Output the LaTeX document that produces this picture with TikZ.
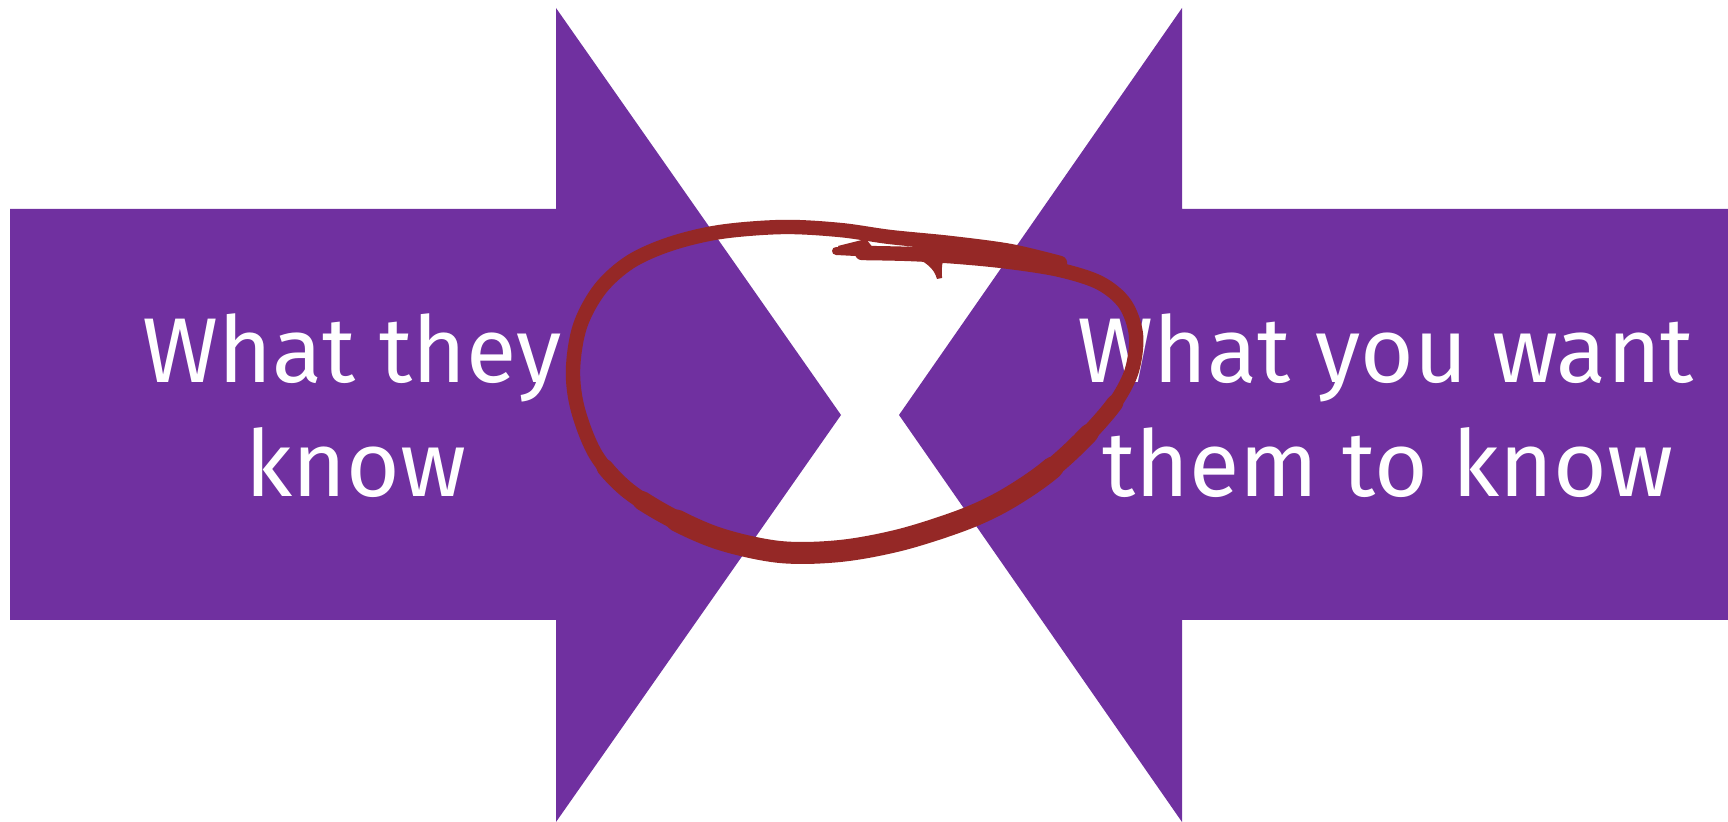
\documentclass[tikz,border=0pt]{standalone}
\usepackage{fontspec}
\setmainfont{Fira Sans}
\definecolor{arrowpurple}{HTML}{7030A0}
\definecolor{loopred}{HTML}{952826}
\begin{document}
\begin{tikzpicture}[x=0.5pt,y=-0.5pt,
  arrowshape/.style={fill=arrowpurple,draw=none},
  label/.style={text=white,font=\fontsize{46}{57}\selectfont,anchor=base,inner sep=0pt},
  loopstroke/.style={draw=loopred,line cap=round,line join=round}]
\useasboundingbox (0,0) rectangle (1728,822);
\fill[white] (0,0) rectangle (1728,822);
% left arrow
\path[arrowshape] (10,209) -- (556,209) -- (556,8) -- (841,415) -- (556,822) -- (556,620) -- (10,620) -- cycle;
% right arrow
\path[arrowshape] (1728,209) -- (1182,209) -- (1182,8) -- (899,415) -- (1182,822) -- (1182,620) -- (1728,620) -- cycle;
% labels
\node[label] (l1) at (352,383) {What they};
\node[label] (l2) at (356,497) {know};
\node[label] (r1) at (1386,383) {What you want};
\node[label] (r2) at (1388,497) {them to know};
% hand-drawn loop
\def\looppath{plot[smooth,tension=0.55] coordinates {(862,253) (910,254) (960,257) (1010,262) (1060,270) (1100,283) (1125,304) (1136,335) (1132,370) (1117,400) (1094,428) (1067,455) (1038,479) (1000,503) (960,521) (900,540) (840,551) (780,552) (720,539) (670,517) (626,489) (596,455) (578,410) (573,370) (580,326) (600,289) (630,262) (670,244) (720,232) (783,227) (840,230) (890,237) (950,243) (1010,251) (1060,263)}}
\draw[loopstroke,line width=4pt] (836,251) -- (875,253);
\draw[loopstroke,line width=7.2pt] \looppath;
\draw[loopstroke,line width=8.4pt,dash pattern=on 290pt off 2000pt,dash phase=2100pt] \looppath;
\draw[loopstroke,line width=9.6pt,dash pattern=on 245pt off 2000pt,dash phase=2035pt] \looppath;
\draw[loopstroke,line width=11pt,dash pattern=on 200pt off 2000pt,dash phase=1965pt] \looppath;
\fill[loopred] (838,246) -- (866,239) -- (874,249) -- (842,255) -- cycle;
\fill[loopred] (910,255) .. controls (926,262) and (934,268) .. (937,279) -- (942,278) .. controls (942,268) and (941,261) .. (946,256) -- cycle;
\end{tikzpicture}
\end{document}
